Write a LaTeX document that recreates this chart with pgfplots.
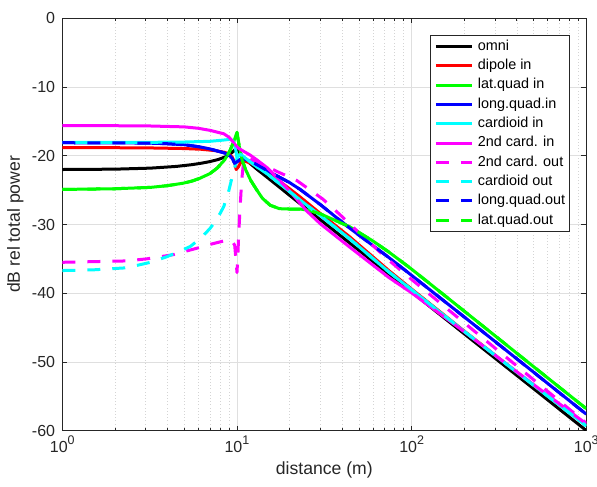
\documentclass[border=0pt]{standalone}
\usepackage{pgfplots}
\pgfplotsset{compat=1.18}
\usepackage{fontspec}
\setmainfont{Liberation Sans}
\definecolor{axgray}{HTML}{262626}
\definecolor{majgrid}{HTML}{DFDFDF}
\definecolor{mingrid}{HTML}{D4D4D4}
\definecolor{mcyan}{rgb}{0,1,1}
\definecolor{mmag}{rgb}{1,0,1}
\definecolor{mgreen}{rgb}{0,1,0}
\definecolor{mblue}{rgb}{0,0,1}
\definecolor{mred}{rgb}{1,0,0}
\newcommand{\tenpow}[1]{10\raisebox{0.52em}{\fontsize{12.5}{13}\selectfont #1}}
\begin{document}
\begin{tikzpicture}
\begin{axis}[
  name=ax,
  scale only axis,
  width=524pt, height=412.4pt,
  xmode=log, xmin=1, xmax=1000, ymin=-60, ymax=0,
  xtick={1,10,100,1000},
  xticklabels={\tenpow{0},\tenpow{1},\tenpow{2},\tenpow{3}},
  ytick={-60,-50,-40,-30,-20,-10,0},
  yticklabels={-60,-50,-40,-30,-20,-10,0},
  tick align=inside,
  major tick length=5.2pt, minor tick length=3pt,
  tick style={color=axgray, line width=0.7pt},
  axis line style={color=axgray, line width=0.8pt},
  xmajorgrids=true, ymajorgrids=true, xminorgrids=true,
  major grid style={color=majgrid, line width=0.7pt},
  minor grid style={color=mingrid, line width=0.6pt, dash pattern=on 0.8pt off 2.4pt},
  every tick label/.append style={font=\fontsize{16}{18}\selectfont, text=axgray},
  xticklabel style={anchor=north, inner sep=0pt, yshift=-5pt},
  yticklabel style={anchor=east, inner sep=0pt, xshift=-7pt},
  xlabel={distance (m)},
  ylabel={dB rel total power},
  label style={font=\fontsize{17.6}{20}\selectfont, text=axgray},
  xlabel style={at={(axis description cs:0.5,-0.0953)}, anchor=center},
  ylabel style={at={(axis description cs:-0.0897,0.5)}, anchor=center},
  legend style={at={(1,1)}, anchor=north east, xshift=-16.3pt, yshift=-16.7pt,
    font=\fontsize{14.4}{16}\selectfont, draw=axgray, line width=0.7pt,
    inner sep=4.5pt, row sep=5.8pt,
    nodes={inner sep=0pt, text height=10.5pt, text depth=3pt},
    /tikz/every odd column/.style={column sep=4.4pt},
    cells={anchor=west}},
  legend image code/.code={\draw[#1] (0pt,0pt) -- (36pt,0pt);},
  every axis plot/.append style={line width=3pt, line join=round},
]
% omni
\addplot[black] coordinates {(1,-22.0)(2,-21.95)(3.2,-21.8)(4.5,-21.55)(5.5,-21.3)(6.2,-21.1)(7,-20.85)(7.8,-20.55)(8.5,-20.2)(9,-19.9)(9.5,-19.4)(10,-18.8)(10.4,-19.6)(11,-20.4)(12,-21.2)(13,-21.95)(15,-23.2)(20,-25.75)(30,-29.3)(44,-32.65)(74,-37.2)(100,-39.83)(200,-45.9)(500,-53.9)(1000,-59.98)};
\addlegendentry{omni}
% dipole in
\addplot[mred] coordinates {(1,-18.8)(3,-18.85)(5,-18.95)(6.2,-19.05)(7.5,-19.25)(8.5,-19.5)(9,-19.75)(9.4,-20.2)(9.7,-21.0)(9.9,-22.0)(10.2,-21.6)(10.5,-21.0)(10.8,-20.8)(11.5,-20.9)(12,-21.1)(13,-21.5)(15,-22.4)(20,-24.8)(23,-26.0)(30,-28.4)(44,-31.75)(74,-36.7)(100,-39.4)(200,-45.5)(500,-53.4)(1000,-59.2)};
\addlegendentry{dipole in}
% lat.quad in
\addplot[mgreen] coordinates {(1,-24.9)(2,-24.8)(3.2,-24.6)(4,-24.35)(4.9,-24.0)(5.5,-23.7)(6.1,-23.3)(7,-22.6)(7.7,-21.8)(8.5,-20.6)(9.1,-19.3)(9.6,-17.9)(10,-16.6)(10.3,-18.6)(10.7,-20.6)(11.2,-22.0)(12,-23.6)(13,-25.0)(14,-26.2)(15.5,-27.2)(17.5,-27.7)(20,-27.75)(23,-27.75)(26,-27.95)(30,-28.45)(35,-29.2)(44,-30.3)(60,-32.4)(74,-34.0)(100,-36.5)(200,-42.6)(500,-50.7)(1000,-56.8)};
\addlegendentry{lat.quad in}
% long.quad.in
\addplot[mblue] coordinates {(1,-18.1)(3,-18.15)(4,-18.25)(5,-18.4)(6.1,-18.7)(7,-19.0)(7.7,-19.3)(8.5,-19.6)(9.1,-20.0)(9.4,-20.4)(9.7,-21.1)(10.1,-20.8)(10.5,-20.5)(11,-20.5)(12,-20.8)(13,-21.3)(15,-22.2)(20,-23.9)(23,-24.9)(30,-27.1)(44,-30.5)(74,-34.8)(100,-37.4)(200,-43.45)(500,-51.5)(1000,-57.6)};
\addlegendentry{long.quad.in}
% cardioid in
\addplot[mcyan] coordinates {(1,-18.05)(3,-18.05)(5,-18.0)(7,-17.9)(8.5,-17.7)(9.2,-17.6)(9.6,-18.0)(9.85,-19.2)(10,-20.3)(10.2,-20.0)(10.5,-19.8)(11,-20.2)(12,-20.95)(13,-21.6)(15,-22.7)(20,-25.2)(23,-26.45)(30,-28.7)(44,-32.05)(74,-36.9)(100,-39.5)(200,-45.55)(500,-53.4)(1000,-59.3)};
\addlegendentry{cardioid in}
% 2nd card. in
\addplot[mmag] coordinates {(1,-15.6)(3,-15.65)(5,-15.8)(6,-16.0)(7,-16.3)(8.4,-16.8)(9,-17.3)(9.3,-17.7)(9.7,-18.3)(10.2,-18.9)(11,-19.4)(11.9,-19.9)(13,-20.6)(15,-21.8)(20,-25.1)(25,-28.0)(30,-29.9)(44,-33.25)(74,-37.7)(100,-39.95)(200,-45.6)(500,-53.3)(1000,-59.0)};
\addlegendentry{2nd card. in}
% 2nd card. out
\addplot[mmag, dash pattern=on 13pt off 12pt] coordinates {(1,-35.5)(2.33,-35.3)(3.04,-35.0)(4.3,-34.4)(4.9,-34.0)(6,-33.4)(7,-32.9)(8.7,-32.3)(9.3,-32.3)(9.7,-33.0)(9.9,-35.5)(10.0,-37.0)(10.1,-35.0)(10.25,-31.0)(10.45,-27.0)(10.65,-23.5)(10.9,-21.0)(11.3,-20.3)(12,-20.5)(15,-21.6)(17,-22.3)(22,-23.6)(31,-26.3)(39,-28.6)(50,-31.2)(74,-35.2)(100,-38.0)(200,-44.3)(500,-52.6)(1000,-58.9)};
\addlegendentry{2nd card. out}
% cardioid out
\addplot[mcyan, dash pattern=on 13pt off 12pt] coordinates {(1,-36.7)(1.5,-36.6)(2.33,-36.3)(3.2,-35.5)(3.96,-34.7)(4.6,-34.0)(5.4,-33.2)(6.2,-32.0)(7,-30.6)(7.7,-29.2)(8.4,-27.4)(9.0,-25.0)(9.3,-23.5)(9.65,-22.0)(9.95,-20.6)(10.2,-20.0)(10.5,-19.8)(11,-20.2)(12,-20.95)(13,-21.6)(15,-22.7)(20,-25.2)(23,-26.45)(30,-28.7)(44,-32.05)(74,-36.9)(100,-39.5)(200,-45.55)(500,-53.4)(1000,-59.3)};
\addlegendentry{cardioid out}
% long.quad.out
\addplot[mblue, dash pattern=on 13pt off 12pt] coordinates {(1,-18.1)(3,-18.15)(4,-18.25)(5,-18.4)(6.1,-18.7)(7,-19.0)(7.7,-19.3)(8.5,-19.6)(9.1,-20.0)(9.4,-20.4)(9.7,-21.1)(10.1,-20.8)(10.5,-20.5)(11,-20.5)(12,-20.8)(13,-21.3)(15,-22.2)(20,-23.9)(23,-24.9)(30,-27.1)(44,-30.5)(74,-34.8)(100,-37.4)(200,-43.45)(500,-51.5)(1000,-57.6)};
\addlegendentry{long.quad.out}
% lat.quad.out
\addplot[mgreen, dash pattern=on 13pt off 12pt] coordinates {(1,-24.9)(2,-24.8)(3.2,-24.6)(4,-24.35)(4.9,-24.0)(5.5,-23.7)(6.1,-23.3)(7,-22.6)(7.7,-21.8)(8.5,-20.6)(9.1,-19.3)(9.6,-17.9)(10,-16.6)(10.3,-18.6)(10.7,-20.6)(11.2,-22.0)(12,-23.6)(13,-25.0)(14,-26.2)(15.5,-27.2)(17.5,-27.7)(20,-27.75)(23,-27.75)(26,-27.95)(30,-28.45)(35,-29.2)(44,-30.3)(60,-32.4)(74,-34.0)(100,-36.5)(200,-42.6)(500,-50.7)(1000,-56.8)};
\addlegendentry{lat.quad.out}
\end{axis}
\pgfresetboundingbox
\path ([shift={(-62.3pt,-55.3pt)}]ax.south west) rectangle ([shift={(10.7pt,18.3pt)}]ax.north east);
\end{tikzpicture}
\end{document}
